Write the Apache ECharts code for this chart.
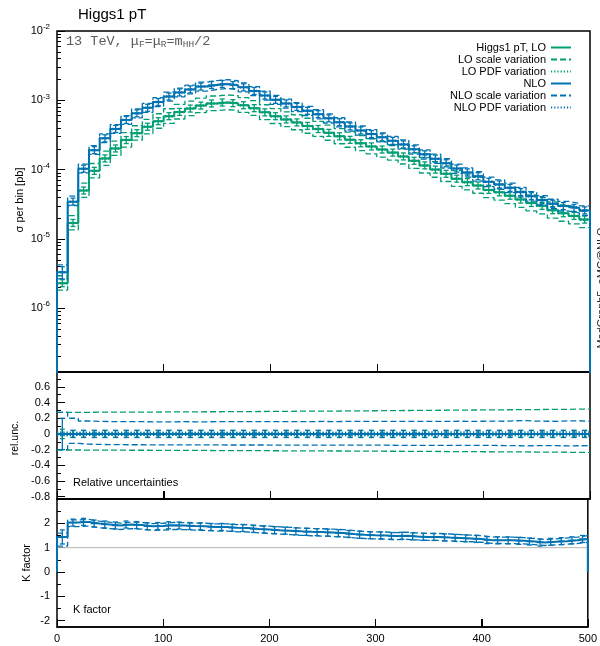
<!DOCTYPE html>
<html><head><meta charset="utf-8">
<script src="https://cdn.jsdelivr.net/npm/echarts@6/dist/echarts.min.js"></script>
<style>html,body{margin:0;padding:0;background:#fff}#c{width:600px;height:646px}</style>
</head><body><div id="c"></div>
<script>
// ---------- data ----------
const binEdges = [0,10,20,30,40,50,60,70,80,90,100,110,120,130,140,150,160,170,180,190,200,
  210,220,230,240,250,260,270,280,290,300,310,320,330,340,350,360,370,380,390,400,
  410,420,430,440,450,460,470,480,490,500];
const xTicks = [0,100,200,300,400,500];
const topTickExps = [-6,-5,-4,-3,-2];
const relTicks = [-0.8,-0.6,-0.4,-0.2,0,0.2,0.4,0.6];
const relMinorTicks = [-0.7,-0.5,-0.3,-0.1,0.1,0.3,0.5,0.7];
const kTicks = [-2,-1,0,1,2];
const kMinorTicks = [-1.5,-0.5,0.5,1.5,2.5];

const loCentral = [2.3e-6,1.7e-5,5.0e-5,9.6e-5,1.45e-4,2.02e-4,2.67e-4,3.36e-4,4.15e-4,5.0e-4,
  5.9e-4,6.8e-4,7.6e-4,8.4e-4,9.0e-4,9.3e-4,9.1e-4,8.5e-4,7.7e-4,6.7e-4,
  5.9e-4,5.3e-4,4.8e-4,4.27e-4,3.85e-4,3.39e-4,3.02e-4,2.69e-4,2.4e-4,2.16e-4,
  1.95e-4,1.76e-4,1.55e-4,1.34e-4,1.15e-4,1.0e-4,8.7e-5,7.4e-5,6.6e-5,5.9e-5,
  5.1e-5,4.7e-5,4.2e-5,3.7e-5,3.3e-5,3.0e-5,2.6e-5,2.35e-5,2.15e-5,1.9e-5];
const nloCentral = [3.31e-6,3.45e-5,1.03e-4,1.91e-4,2.83e-4,3.86e-4,5.21e-4,6.48e-4,7.80e-4,9.45e-4,
  1.133e-3,1.299e-3,1.436e-3,1.579e-3,1.665e-3,1.721e-3,1.656e-3,1.539e-3,1.363e-3,1.173e-3,
  1.015e-3,9.01e-4,8.02e-4,7.05e-4,6.31e-4,5.49e-4,4.83e-4,4.20e-4,3.67e-4,3.26e-4,
  2.93e-4,2.60e-4,2.31e-4,1.96e-4,1.66e-4,1.44e-4,1.235e-4,1.036e-4,9.11e-5,8.02e-5,
  6.68e-5,6.11e-5,5.46e-5,4.74e-5,4.13e-5,3.63e-5,3.22e-5,2.98e-5,2.80e-5,2.58e-5];

const loStat = [0.06,0.025,0.018,0.015,0.013,0.012,0.012,0.011,0.011,0.011,
  0.010,0.010,0.010,0.010,0.010,0.010,0.010,0.010,0.010,0.010,
  0.010,0.010,0.011,0.011,0.011,0.011,0.011,0.011,0.012,0.012,
  0.012,0.012,0.012,0.012,0.013,0.013,0.013,0.013,0.013,0.014,
  0.014,0.014,0.014,0.014,0.015,0.015,0.015,0.015,0.015,0.015];
const nloStat = [0.20,0.045,0.030,0.025,0.022,0.020,0.020,0.020,0.020,0.020,
  0.020,0.020,0.020,0.020,0.020,0.020,0.020,0.020,0.020,0.020,
  0.020,0.020,0.020,0.021,0.021,0.021,0.021,0.021,0.021,0.022,
  0.022,0.022,0.022,0.022,0.022,0.023,0.023,0.023,0.023,0.023,
  0.024,0.024,0.024,0.024,0.024,0.025,0.025,0.025,0.025,0.025];

const loScaleUp = [0.275,0.276,0.276,0.277,0.277,0.278,0.278,0.279,0.279,0.280,
  0.281,0.281,0.282,0.283,0.283,0.284,0.285,0.285,0.286,0.287,
  0.288,0.289,0.290,0.290,0.291,0.292,0.293,0.294,0.295,0.296,
  0.297,0.298,0.299,0.300,0.301,0.302,0.303,0.304,0.305,0.306,
  0.307,0.308,0.309,0.310,0.311,0.312,0.313,0.314,0.316,0.318];
const loScaleDn = [-0.205,-0.205,-0.206,-0.206,-0.207,-0.207,-0.208,-0.208,-0.209,-0.209,
  -0.210,-0.210,-0.211,-0.211,-0.212,-0.212,-0.213,-0.213,-0.214,-0.214,
  -0.215,-0.215,-0.216,-0.216,-0.217,-0.218,-0.218,-0.219,-0.219,-0.220,
  -0.221,-0.221,-0.222,-0.223,-0.223,-0.224,-0.225,-0.225,-0.226,-0.227,
  -0.228,-0.228,-0.229,-0.230,-0.231,-0.232,-0.233,-0.234,-0.235,-0.236];
const nloScaleUp = [0.275,0.200,0.165,0.160,0.158,0.157,0.156,0.156,0.155,0.155,
  0.155,0.156,0.155,0.155,0.156,0.156,0.156,0.157,0.157,0.157,
  0.157,0.158,0.158,0.158,0.159,0.158,0.159,0.159,0.160,0.159,
  0.160,0.160,0.160,0.161,0.160,0.161,0.161,0.162,0.161,0.162,
  0.163,0.162,0.168,0.170,0.163,0.162,0.161,0.166,0.168,0.160];
const nloScaleDn = [-0.200,-0.120,-0.130,-0.134,-0.136,-0.137,-0.138,-0.138,-0.139,-0.139,
  -0.139,-0.140,-0.140,-0.140,-0.140,-0.141,-0.141,-0.141,-0.141,-0.142,
  -0.142,-0.142,-0.142,-0.143,-0.143,-0.143,-0.143,-0.144,-0.144,-0.144,
  -0.144,-0.145,-0.145,-0.145,-0.145,-0.146,-0.146,-0.146,-0.147,-0.147,
  -0.147,-0.148,-0.150,-0.152,-0.150,-0.149,-0.150,-0.152,-0.151,-0.150];
const loPdf = [0.021,0.020,0.020,0.020,0.020,0.020,0.020,0.020,0.020,0.020,
  0.020,0.020,0.020,0.020,0.020,0.020,0.020,0.020,0.020,0.020,
  0.020,0.020,0.020,0.021,0.021,0.021,0.021,0.021,0.021,0.021,
  0.021,0.021,0.021,0.021,0.022,0.022,0.022,0.022,0.022,0.022,
  0.022,0.022,0.023,0.023,0.023,0.023,0.023,0.023,0.024,0.024];
const nloPdf = [0.022,0.020,0.020,0.020,0.020,0.020,0.020,0.020,0.020,0.020,
  0.020,0.020,0.020,0.020,0.020,0.020,0.020,0.020,0.020,0.020,
  0.020,0.020,0.020,0.021,0.021,0.021,0.021,0.021,0.021,0.021,
  0.021,0.021,0.021,0.021,0.022,0.022,0.022,0.022,0.022,0.022,
  0.022,0.022,0.023,0.023,0.023,0.023,0.023,0.023,0.024,0.024];
const kBandUp = [0.11,0.055,0.05,0.05,0.05,0.052,0.054,0.056,0.058,0.06,
  0.06,0.062,0.064,0.066,0.068,0.07,0.07,0.072,0.074,0.076,
  0.078,0.08,0.08,0.082,0.084,0.086,0.088,0.09,0.09,0.092,
  0.094,0.095,0.096,0.097,0.098,0.099,0.10,0.10,0.10,0.10,
  0.10,0.10,0.10,0.10,0.10,0.10,0.10,0.10,0.10,0.10];
const kBandDn = [-0.26,-0.08,-0.085,-0.085,-0.085,-0.086,-0.087,-0.088,-0.089,-0.09,
  -0.09,-0.09,-0.09,-0.09,-0.09,-0.09,-0.091,-0.092,-0.093,-0.094,
  -0.095,-0.096,-0.097,-0.098,-0.099,-0.10,-0.10,-0.10,-0.10,-0.10,
  -0.10,-0.10,-0.10,-0.10,-0.10,-0.10,-0.10,-0.10,-0.10,-0.10,
  -0.10,-0.10,-0.10,-0.10,-0.10,-0.10,-0.10,-0.10,-0.10,-0.10];

const legendNames = ['Higgs1 pT, LO','LO scale variation','LO PDF variation','NLO','NLO scale variation','NLO PDF variation'];

// ---------- helpers ----------
const FONT = "'Liberation Sans', Arial, Helvetica, sans-serif";
const MONO = "'Liberation Mono', 'DejaVu Sans Mono', monospace";
const GREEN = '#009e73', BLUE = '#0072b2';
const DASH = [6,3], DOT = [1.2,2];
const TOP_MIN = -6.92, TOP_MAX = -2;
const REL_MIN = -0.83, REL_MAX = 0.79;
const K_MIN = -2.26, K_MAX = 3.0;
const lg = v => Math.log10(v);
const centers = binEdges.slice(0,-1).map((e,i)=>(e+binEdges[i+1])/2);
const kFactor = nloCentral.map((v,i)=>v/loCentral[i]);

function steps(vals, drop){
  const pts = [];
  if (drop !== undefined) pts.push([binEdges[0], drop]);
  vals.forEach((v,i)=>pts.push([binEdges[i], v]));
  pts.push([binEdges[binEdges.length-1], vals[vals.length-1]]);
  if (drop !== undefined) pts.push([binEdges[binEdges.length-1], drop]);
  return pts;
}
function line(name, data, xi, yi, color, type, width, z){
  return {name, type:'line', xAxisIndex:xi, yAxisIndex:yi, data, step:'end',
    symbol:'none', showSymbol:false, clip:true, animation:false, silent:true, z,
    lineStyle:{color, width, type}, itemStyle:{color}};
}
function markers(data, xi, yi, color, z){
  return {type:'custom', xAxisIndex:xi, yAxisIndex:yi, data, clip:true, silent:true,
    animation:false, z, encode:{x:0, y:[1,2,3]},
    renderItem(params, api){
      const x = api.value(0);
      const c = api.coord([x, api.value(1)]);
      const lo = api.coord([x, api.value(2)])[1];
      const hi = api.coord([x, api.value(3)])[1];
      const m = 3.5;
      const top = Math.min(hi, c[1]-m), bot = Math.max(lo, c[1]+m);
      const st = {stroke:color, lineWidth:1.3};
      return {type:'group', children:[
        {type:'line', shape:{x1:c[0]-m,y1:c[1],x2:c[0]+m,y2:c[1]}, style:st},
        {type:'line', shape:{x1:c[0],y1:top,x2:c[0],y2:bot}, style:st},
        {type:'line', shape:{x1:c[0]-2.5,y1:top,x2:c[0]+2.5,y2:top}, style:st},
        {type:'line', shape:{x1:c[0]-2.5,y1:bot,x2:c[0]+2.5,y2:bot}, style:st}
      ]};
    }};
}
// x-axis tick marks at the bottom edge of a lower panel (inward, like the top panel)
function bottomTicks(xi, yi, yMin){
  return {type:'custom', xAxisIndex:xi, yAxisIndex:yi, data:xTicks.map(x=>[x, yMin]),
    clip:false, silent:true, animation:false, z:6, encode:{x:0, y:1},
    renderItem(params, api){
      const p = api.coord([api.value(0), api.value(1)]);
      return {type:'line', shape:{x1:Math.round(p[0])+0.5, y1:p[1], x2:Math.round(p[0])+0.5, y2:p[1]-8},
        style:{stroke:'#000', lineWidth:1}};
    }};
}

// ---------- series ----------
const series = [];
// top panel (log10 values)
series.push(line('LO scale variation', steps(loCentral.map((v,i)=>lg(v*(1+loScaleUp[i])))), 0,0, GREEN, DASH, 1.3, 2));
series.push(line('LO scale variation', steps(loCentral.map((v,i)=>lg(v*(1+loScaleDn[i])))), 0,0, GREEN, DASH, 1.3, 2));
series.push(line('LO PDF variation', steps(loCentral.map((v,i)=>lg(v*(1+loPdf[i])))), 0,0, GREEN, DOT, 1.2, 2));
series.push(line('LO PDF variation', steps(loCentral.map((v,i)=>lg(v*(1-loPdf[i])))), 0,0, GREEN, DOT, 1.2, 2));
series.push(line('Higgs1 pT, LO', steps(loCentral.map(lg), -8), 0,0, GREEN, 'solid', 2, 3));
series.push(markers(loCentral.map((v,i)=>[centers[i], lg(v), lg(v*(1-loStat[i])), lg(v*(1+loStat[i]))]), 0,0, GREEN, 3));
series.push(line('NLO scale variation', steps(nloCentral.map((v,i)=>lg(v*(1+nloScaleUp[i])))), 0,0, BLUE, DASH, 1.3, 4));
series.push(line('NLO scale variation', steps(nloCentral.map((v,i)=>lg(v*(1+nloScaleDn[i])))), 0,0, BLUE, DASH, 1.3, 4));
series.push(line('NLO PDF variation', steps(nloCentral.map((v,i)=>lg(v*(1+nloPdf[i])))), 0,0, BLUE, DOT, 1.2, 4));
series.push(line('NLO PDF variation', steps(nloCentral.map((v,i)=>lg(v*(1-nloPdf[i])))), 0,0, BLUE, DOT, 1.2, 4));
series.push(line('NLO', steps(nloCentral.map(lg), -8), 0,0, BLUE, 'solid', 2, 5));
series.push(markers(nloCentral.map((v,i)=>[centers[i], lg(v), lg(v*(1-nloStat[i])), lg(v*(1+nloStat[i]))]), 0,0, BLUE, 5));

// relative uncertainty panel
series.push(line('LO scale variation', steps(loScaleUp), 1,2, GREEN, DASH, 1.3, 2));
series.push(line('LO scale variation', steps(loScaleDn), 1,2, GREEN, DASH, 1.3, 2));
series.push(line('LO PDF variation', steps(loPdf), 1,2, GREEN, DOT, 1.2, 2));
series.push(line('LO PDF variation', steps(loPdf.map(v=>-v)), 1,2, GREEN, DOT, 1.2, 2));
series.push(line('Higgs1 pT, LO', steps(loCentral.map(()=>0)), 1,2, GREEN, 'solid', 2, 3));
series.push(markers(loCentral.map((v,i)=>[centers[i], 0, -loStat[i], loStat[i]]), 1,2, GREEN, 3));
series.push(line('NLO scale variation', steps(nloScaleUp), 1,2, BLUE, DASH, 1.3, 4));
series.push(line('NLO scale variation', steps(nloScaleDn), 1,2, BLUE, DASH, 1.3, 4));
series.push(line('NLO PDF variation', steps(nloPdf), 1,2, BLUE, DOT, 1.2, 4));
series.push(line('NLO PDF variation', steps(nloPdf.map(v=>-v)), 1,2, BLUE, DOT, 1.2, 4));
series.push(line('NLO', steps(nloCentral.map(()=>0)), 1,2, BLUE, 'solid', 2, 5));
series.push(markers(nloCentral.map((v,i)=>[centers[i], 0, -nloStat[i], nloStat[i]]), 1,2, BLUE, 5));
series.push(bottomTicks(1, 2, REL_MIN));

// K factor panel
series.push({type:'line', xAxisIndex:2, yAxisIndex:4, data:[[0,1],[500,1]], symbol:'none',
  silent:true, animation:false, z:1, lineStyle:{color:'#b4b4b4', width:1}});
series.push(line('NLO scale variation', steps(kFactor.map((k,i)=>k*(1+kBandUp[i]))), 2,4, BLUE, DASH, 1.3, 4));
series.push(line('NLO scale variation', steps(kFactor.map((k,i)=>k*(1+kBandDn[i]))), 2,4, BLUE, DASH, 1.3, 4));
series.push(line('NLO', steps(kFactor, 0), 2,4, BLUE, 'solid', 2, 5));
series.push(markers(kFactor.map((k,i)=>[centers[i], k, k*(1-nloStat[i]), k*(1+nloStat[i])]), 2,4, BLUE, 5));
series.push(bottomTicks(2, 4, K_MIN));

// ---------- axes ----------
const grids = [
  {left:57, top:31, width:533, height:341},
  {left:57, top:372, width:533, height:127},
  {left:57, top:499, width:533, height:128}
].map(g=>Object.assign(g, {show:true, borderColor:'#000', borderWidth:1.5, backgroundColor:'transparent'}));

const xAxes = [0,1,2].map(i=>({gridIndex:i, type:'value', min:0, max:500, interval:100, position:'bottom',
  axisLine:{show:true, onZero:false, lineStyle:{color:'#000', width:1.5}}, splitLine:{show:false},
  axisTick:{show:true, inside:true, length:8, customValues:xTicks, lineStyle:{color:'#000', width:1}},
  axisLabel:{show:i===2, customValues:xTicks, fontSize:11, color:'#000', fontFamily:FONT, margin:6}}));

const topMinor = [];
for (let n=-7; n<=-3; n++) for (let k=2; k<=9; k++){ const v = Math.log10(k)+n; if (v>TOP_MIN && v<TOP_MAX) topMinor.push(v); }

function yMajor(gi, min, max, ticks, fmt, rich){
  return {gridIndex:gi, type:'value', min, max, position:'left',
    axisLine:{show:false, onZero:false}, splitLine:{show:false},
    axisTick:{show:true, inside:true, length:8, customValues:ticks, lineStyle:{color:'#000', width:1}},
    axisLabel:{show:true, customValues:ticks, formatter:fmt, fontSize:11, color:'#000', fontFamily:FONT, margin:7, rich}};
}
function yMinor(gi, min, max, ticks){
  return {gridIndex:gi, type:'value', min, max, position:'left',
    axisLine:{show:false, onZero:false}, splitLine:{show:false}, axisLabel:{show:false},
    axisTick:{show:true, inside:true, length:4, customValues:ticks, lineStyle:{color:'#000', width:1}}};
}
const yAxes = [
  yMajor(0, TOP_MIN, TOP_MAX, topTickExps, v=>'{b|10}{s|'+Math.round(v)+'}',
    {b:{fontSize:11, fontFamily:FONT, color:'#000', lineHeight:16}, s:{fontSize:8, fontFamily:FONT, color:'#000', lineHeight:8, verticalAlign:'top'}}),
  yMinor(0, TOP_MIN, TOP_MAX, topMinor),
  yMajor(1, REL_MIN, REL_MAX, relTicks, v=>Math.abs(v)<1e-9?'0':v.toFixed(1)),
  yMinor(1, REL_MIN, REL_MAX, relMinorTicks),
  yMajor(2, K_MIN, K_MAX, kTicks, v=>String(Math.round(v))),
  yMinor(2, K_MIN, K_MAX, kMinorTicks)
];

function txt(x, y, text, size, extra){
  return Object.assign({type:'text', x, y, silent:true, z:100,
    style:Object.assign({text, fontSize:size, fontFamily:FONT, fill:'#000',
      align:'left', verticalAlign:'middle', textAlign:'left', textVerticalAlign:'middle'}, extra && extra.style)},
    extra && extra.el);
}
const graphic = [
  txt(78, 15, 'Higgs1 pT', 15),
  {type:'text', x:66, y:41, silent:true, z:100, style:{
    text:'{a|13 TeV, μ}{s|F}{a|=μ}{s|R}{a|=m}{s|HH}{a|/2}',
    align:'left', verticalAlign:'middle', textAlign:'left', textVerticalAlign:'middle',
    rich:{a:{fontSize:13.5, fontFamily:MONO, fill:'#5a5a5a', color:'#5a5a5a', lineHeight:16},
          s:{fontSize:9.5, fontFamily:MONO, fill:'#5a5a5a', color:'#5a5a5a', lineHeight:9, verticalAlign:'bottom'}}}},
  txt(20, 200, 'σ per bin [pb]', 11, {style:{align:'center', textAlign:'center'}, el:{rotation:Math.PI/2}}),
  txt(15, 438, 'rel.unc.', 10.5, {style:{align:'center', textAlign:'center'}, el:{rotation:Math.PI/2}}),
  txt(27, 563, 'K factor', 11, {style:{align:'center', textAlign:'center'}, el:{rotation:Math.PI/2}}),
  txt(73, 483, 'Relative uncertainties', 11),
  txt(73, 610, 'K factor', 11),
  txt(602, 288, 'MadGraph5_aMC@NLO', 11, {style:{align:'center', textAlign:'center', fill:'#222'}, el:{rotation:Math.PI/2}})
];

const chart = echarts.init(document.getElementById('c'), null, {renderer:'canvas'});
chart.setOption({
  animation:false,
  backgroundColor:'#fff',
  grid:grids, xAxis:xAxes, yAxis:yAxes,
  legend:{data:legendNames, orient:'vertical', right:23, top:37, align:'right', selectedMode:false,
    itemWidth:20, itemHeight:8, itemGap:1,
    itemStyle:{color:'rgba(0,0,0,0)', borderColor:'rgba(0,0,0,0)', borderWidth:0, opacity:0},
    textStyle:{fontSize:11, fontFamily:FONT, color:'#000', lineHeight:10}},
  graphic,
  series
});
</script>
</body></html>
